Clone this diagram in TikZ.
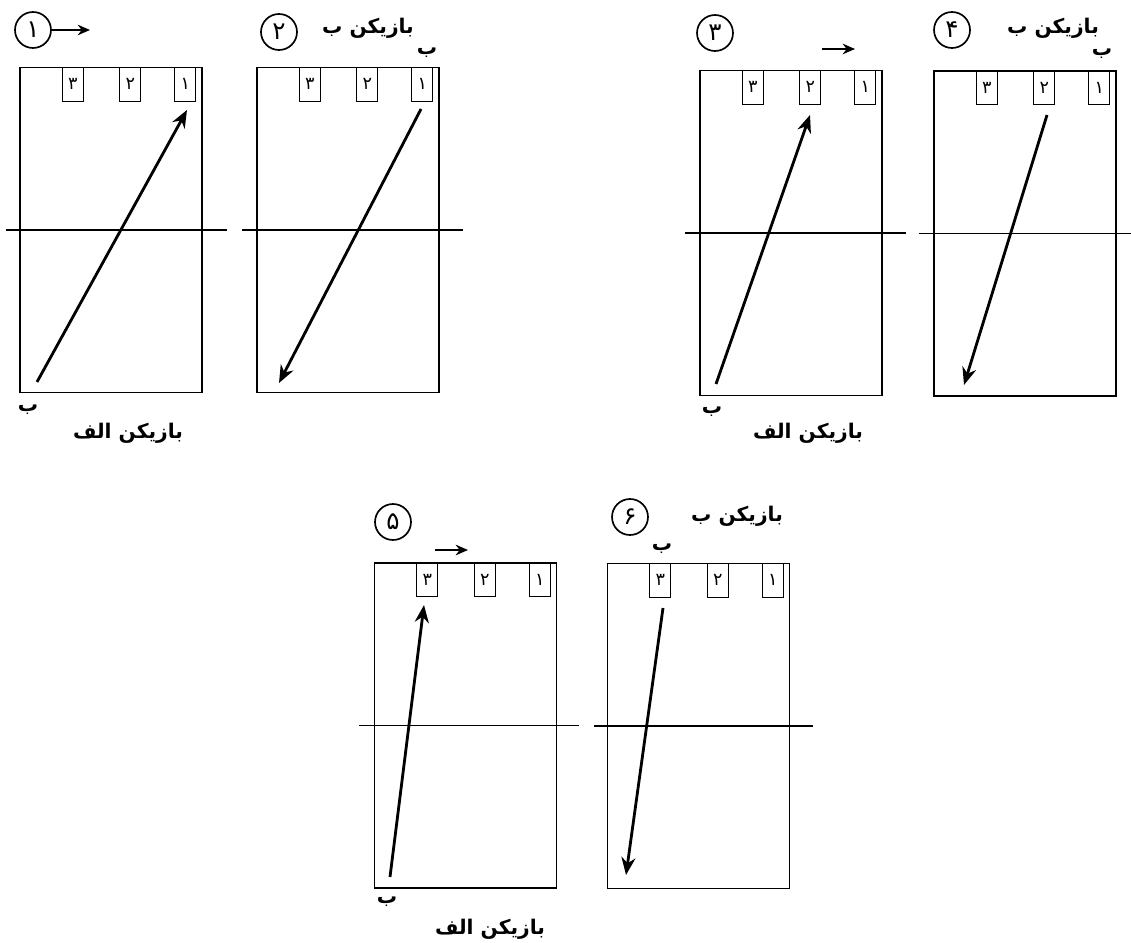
\documentclass[tikz,border=0pt]{standalone}
\usepackage{fontspec}
\usepackage{tikz}
\usetikzlibrary{arrows.meta,positioning,calc}
\newfontfamily\arabicfont[Script=Arabic]{DejaVu Sans}
\TeXXeTstate=1

\begin{document}
\begin{tikzpicture}[
    x=0.02cm, y=-0.02cm,
    court/.style={rectangle, draw, line width=0.75pt, minimum width=3.64cm, minimum height=6.5cm, inner sep=0},
    slot/.style={rectangle, draw, line width=0.45pt, minimum width=0.42cm, minimum height=0.68cm, inner sep=0, anchor=north, font=\arabicfont\fontsize{10}{11}\selectfont},
    num/.style={circle, draw, line width=0.95pt, minimum size=0.72cm, inner sep=0, font=\arabicfont\fontsize{14}{15}\selectfont},
    label/.style={inner sep=1pt, font=\arabicfont\bfseries\fontsize{11.5}{13}\selectfont},
    net/.style={line width=0.65pt},
    shot/.style={-{Stealth[length=10pt, width=8pt]}, line width=1.6pt},
    dir/.style={-{Stealth[length=7pt, width=6pt]}, line width=1.2pt}
]

\useasboundingbox (0,0) rectangle (1131,942);

% Panel 1
\node[court] (c1) at (111, 230) {};
\node[slot] (c1s3) at ($(c1.north west)+(53.5,0)$) {۳};
\node[slot] (c1s2) at ($(c1.north west)+(111,0)$) {۲};
\node[slot] (c1s1) at ($(c1.north west)+(166,0)$) {۱};
\draw[net] ([xshift=-0.27cm]c1.west) -- ([xshift=0.48cm]c1.east);
\node[num] (n1) at (33, 30) {۱};
\coordinate (m1) at (90, 30);
\draw[dir] (n1) -- (m1);
\coordinate (a1) at (37, 382);
\coordinate (b1) at (187, 110);
\draw[shot] (a1) -- (b1);
\node[label] (p1) at (28, 410) {\beginR ب\endR};
\node[label] (q1) at (128, 433) {\beginR بازیکن الف\endR};

% Panel 2
\node[court] (c2) at (348, 230) {};
\node[slot] (c2s3) at ($(c2.north west)+(53.5,0)$) {۳};
\node[slot] (c2s2) at ($(c2.north west)+(111,0)$) {۲};
\node[slot] (c2s1) at ($(c2.north west)+(166,0)$) {۱};
\draw[net] ([xshift=-0.28cm]c2.west) -- ([xshift=0.46cm]c2.east);
\node[num] (n2) at (279, 32) {۲};
\node[label] (q2) at (368, 28) {\beginR بازیکن ب\endR};
\node[label] (p2) at (427, 53) {\beginR ب\endR};
\coordinate (a2) at (421, 109);
\coordinate (b2) at (279, 383);
\draw[shot] (a2) -- (b2);

% Panel 3
\node[court] (c3) at (791, 233) {};
\node[slot] (c3s3) at ($(c3.north west)+(53.5,0)$) {۳};
\node[slot] (c3s2) at ($(c3.north west)+(111,0)$) {۲};
\node[slot] (c3s1) at ($(c3.north west)+(166,0)$) {۱};
\draw[net] ([xshift=-0.28cm]c3.west) -- ([xshift=0.46cm]c3.east);
\node[num] (n3) at (715, 33) {۳};
\coordinate (l3) at (822, 49);
\coordinate (m3) at (855, 49);
\draw[dir] (l3) -- (m3);
\coordinate (a3) at (716, 384);
\coordinate (b3) at (810, 115);
\draw[shot] (a3) -- (b3);
\node[label] (p3) at (712, 412) {\beginR ب\endR};
\node[label] (q3) at (808, 433) {\beginR بازیکن الف\endR};

% Panel 4
\node[court] (c4) at (1025, 233.5) {};
\node[slot] (c4s3) at ($(c4.north west)+(53.5,0)$) {۳};
\node[slot] (c4s2) at ($(c4.north west)+(111,0)$) {۲};
\node[slot] (c4s1) at ($(c4.north west)+(166,0)$) {۱};
\draw[net] ([xshift=-0.28cm]c4.west) -- ([xshift=0.3cm]c4.east);
\node[num] (n4) at (952, 30) {۴};
\node[label] (q4) at (1053, 28) {\beginR بازیکن ب\endR};
\node[label] (p4) at (1102, 54) {\beginR ب\endR};
\coordinate (a4) at (1047, 115);
\coordinate (b4) at (964, 385);
\draw[shot] (a4) -- (b4);

% Panel 5
\node[court] (c5) at (465.5, 725.5) {};
\node[slot] (c5s3) at ($(c5.north west)+(53.5,0)$) {۳};
\node[slot] (c5s2) at ($(c5.north west)+(111,0)$) {۲};
\node[slot] (c5s1) at ($(c5.north west)+(166,0)$) {۱};
\draw[net] ([xshift=-0.3cm]c5.west) -- ([xshift=0.44cm]c5.east);
\node[num] (n5) at (393, 522) {۵};
\coordinate (l5) at (435, 550);
\coordinate (m5) at (468, 550);
\draw[dir] (l5) -- (m5);
\coordinate (a5) at (390, 877);
\coordinate (b5) at (424, 605);
\draw[shot] (a5) -- (b5);
\node[label] (p5) at (387, 902) {\beginR ب\endR};
\node[label] (q5) at (490, 929) {\beginR بازیکن الف\endR};

% Panel 6
\node[court] (c6) at (698.5, 726) {};
\node[slot] (c6s3) at ($(c6.north west)+(53.5,0)$) {۳};
\node[slot] (c6s2) at ($(c6.north west)+(111,0)$) {۲};
\node[slot] (c6s1) at ($(c6.north west)+(166,0)$) {۱};
\draw[net] ([xshift=-0.26cm]c6.west) -- ([xshift=0.46cm]c6.east);
\node[num] (n6) at (630, 517) {۶};
\node[label] (q6) at (737, 516) {\beginR بازیکن ب\endR};
\node[label] (p6) at (662, 549) {\beginR ب\endR};
\coordinate (a6) at (663, 608);
\coordinate (b6) at (626, 875);
\draw[shot] (a6) -- (b6);

\end{tikzpicture}
\end{document}
